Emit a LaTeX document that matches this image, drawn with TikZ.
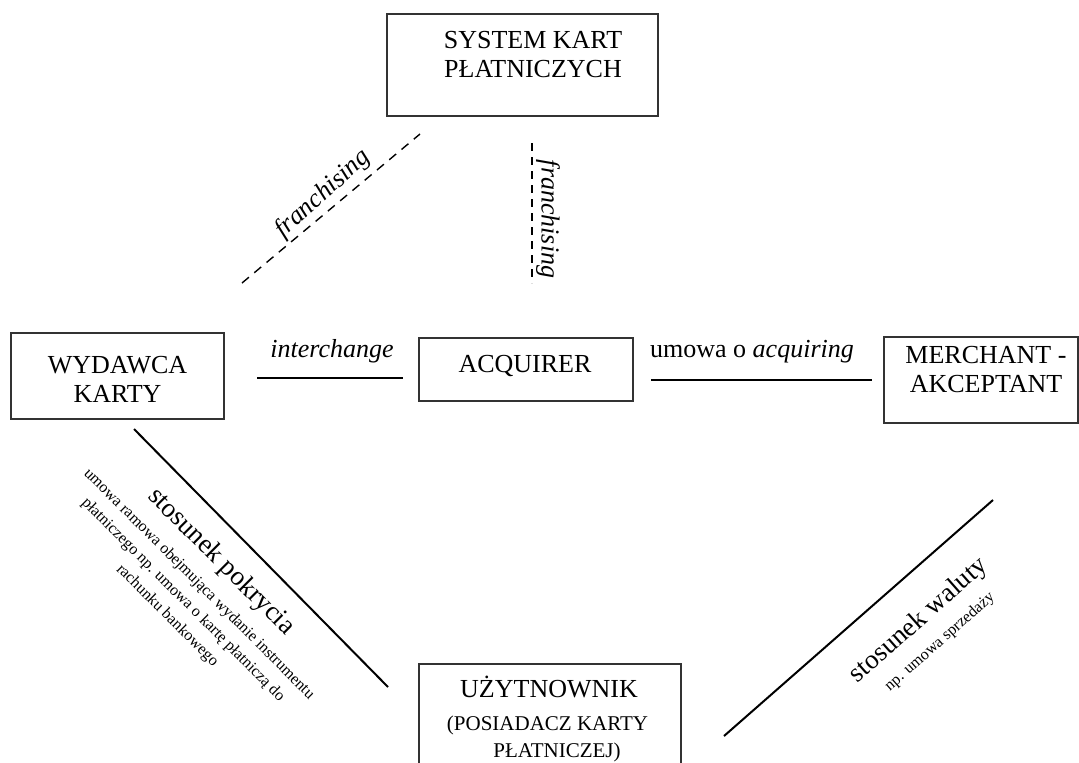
\documentclass[tikz,border=0pt]{standalone}
\usepackage{fontspec}
\setmainfont{Liberation Serif}
\begin{document}
\begin{tikzpicture}[x=0.5pt,y=-0.5pt,
  box/.style={draw=black!80, line width=0.55pt, inner sep=0pt},
  txt/.style={inner sep=0pt, align=center, font=\fontsize{13}{14.5}\selectfont},
  big/.style={inner sep=0pt, font=\fontsize{13.5}{15}\selectfont},
  small/.style={inner sep=0pt, align=center, font=\fontsize{8}{11.2}\selectfont},
  conn/.style={line width=1pt},
  dconn/.style={line width=0.7pt, dash pattern=on 4.5pt off 3.5pt}]
\useasboundingbox (0,0) rectangle (1079,762);
\clip (0,0) rectangle (1079,762);
% boxes
\node[box, minimum width=135.5pt, minimum height=51pt] (sys) at (522.5,65) {};
\node[box, minimum width=106.5pt, minimum height=43pt] (wyd) at (117.5,376) {};
\node[box, minimum width=107pt, minimum height=31.5pt] (acq) at (526,369.5) {};
\node[box, minimum width=97pt, minimum height=43pt] (mer) at (981,380) {};
\node[box, minimum width=131pt, minimum height=60pt] (uzy) at (550,724) {};
% box texts
\node[txt] (systxt) at (533,55) {SYSTEM KART\\PŁATNICZYCH};
\node[txt] (wydtxt) at (117.5,379) {WYDAWCA\\KARTY};
\node[txt] (acqtxt) at (525,366) {ACQUIRER};
\node[txt] (mertxt) at (986,369.5) {MERCHANT -\\AKCEPTANT};
\node[txt, anchor=base] (u1) at (549,697) {UŻYTNOWNIK};
\node[txt, anchor=base, font=\fontsize{10.5}{12}\selectfont] (u2) at (547.5,730) {(POSIADACZ KARTY};
\node[txt, anchor=base, font=\fontsize{10.5}{12}\selectfont] (u3) at (557,757) {PŁATNICZEJ)};
% connector end points
\coordinate (f1a) at (242,283);
\coordinate (f1b) at (420,134);
\coordinate (f2a) at (532,143);
\coordinate (f2b) at (532,283);
\coordinate (ia) at (257,378);
\coordinate (ib) at (403,378);
\coordinate (aa) at (651,380);
\coordinate (ab) at (872,380);
\coordinate (pa) at (134,429);
\coordinate (pb) at (388,687);
\coordinate (wa) at (993,500);
\coordinate (wb) at (724,736);
% connectors
\draw[dconn] (f1a) -- (f1b);
\draw[dconn, dash pattern=on 4pt off 3pt] (f2a) -- (f2b);
\draw[conn] (ia) -- (ib);
\draw[conn] (aa) -- (ab);
\draw[conn] (pa) -- (pb);
\draw[conn] (wa) -- (wb);
% labels
\node[txt, font=\itshape\fontsize{13}{14.5}\selectfont] (intl) at (332,351) {interchange};
\node[txt] (acql) at (752,352) {umowa o \textit{acquiring}};
\node[txt, font=\itshape\fontsize{13}{14.5}\selectfont, rotate=42] (fr1) at (323,194) {franchising};
\node[txt, font=\itshape\fontsize{13}{14.5}\selectfont, rotate=-90] (fr2) at (548,219) {franchising};
\node[big, rotate=-45] (pok) at (221,562) {stosunek pokrycia};
\node[small, rotate=-45] (pokd) at (183,600) {umowa ramowa obejmująca wydanie instrumentu\\płatniczego np. umowa o kartę płatniczą do\\rachunku bankowego};
\node[big, rotate=41.5] (wal) at (919,621) {stosunek waluty};
\node[small, rotate=41.5] (wald) at (940,642) {np. umowa sprzedaży};
\end{tikzpicture}
\end{document}
